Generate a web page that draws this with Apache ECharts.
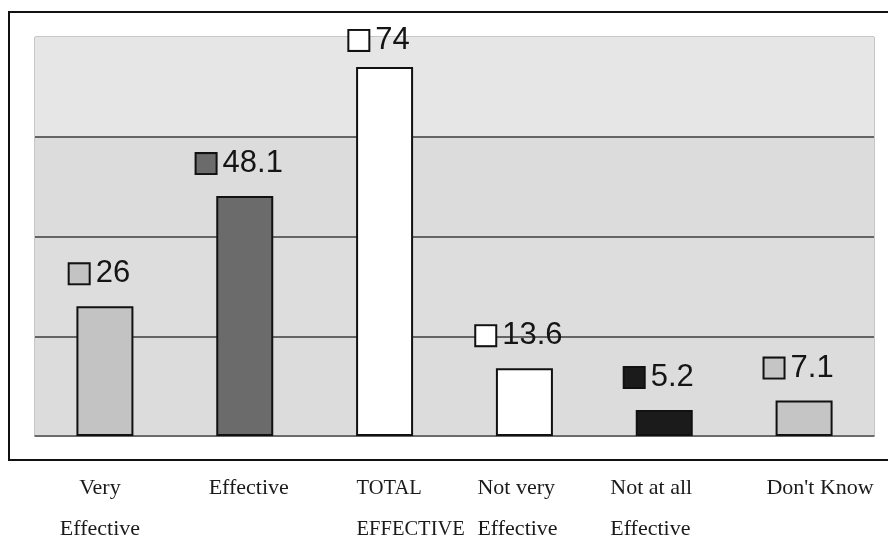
<!DOCTYPE html>
<html>
<head>
<meta charset="utf-8">
<script src="https://cdn.jsdelivr.net/npm/echarts@6/dist/echarts.min.js"></script>
<style>
  html, body { margin: 0; padding: 0; background: #ffffff; }
  #chart { width: 888px; height: 542px; }
</style>
</head>
<body>
<div id="chart"></div>
<script>
// Survey responses: how effective respondents rated the measure (%)
const categories = ['Very\nEffective', 'Effective', 'TOTAL\nEFFECTIVE', 'Not very\nEffective', 'Not at all\nEffective', "Don't Know"];
const values = [26, 48.1, 74, 13.6, 5.2, 7.1];
const barFills = ['#c3c3c3', '#6b6b6b', '#ffffff', '#ffffff', '#1b1b1b', '#c5c5c5'];
const yTicks = [0, 20, 40, 60, 80];

// Category label placement under the frame (alignment, horizontal nudge, size)
const labelAlign = ['center', 'center', 'left', 'left', 'left', 'center'];
const labelNudge = [-5, 4, -28, -47, -54, 16];
const labelSize = [22, 22, 20.5, 22, 22, 22];

const chart = echarts.init(document.getElementById('chart'), null, { renderer: 'canvas' });

const axisData = categories.map((c, i) => ({
  value: c,
  textStyle: {
    align: labelAlign[i],
    fontSize: labelSize[i],
    padding: labelAlign[i] === 'left' ? [0, 0, 0, labelNudge[i]] : [0, 0, 0, 2 * labelNudge[i]]
  }
}));

const rich = {
  v: { fontFamily: 'Liberation Sans, Arial, sans-serif', fontSize: 31, lineHeight: 31, color: '#151515', padding: [0, 0, 0, 7], verticalAlign: 'middle' }
};
barFills.forEach((f, i) => {
  rich['k' + i] = { width: 19, height: 19, backgroundColor: f, borderColor: '#111', borderWidth: 2, verticalAlign: 'middle' };
});

const seriesData = values.map((v, i) => {
  const item = { value: v, itemStyle: { color: barFills[i] } };
  if (v === Math.max(...values)) item.label = { distance: 11 };
  return item;
});

chart.setOption({
  animation: false,
  backgroundColor: '#ffffff',
  graphic: [{
    type: 'rect',
    shape: { x: 9, y: 12, width: 900, height: 448 },
    style: { fill: null, stroke: '#111', lineWidth: 2 },
    z: -1
  }],
  grid: {
    left: 35, right: 14, top: 37, bottom: 106,
    outerBoundsMode: 'none',
    containLabel: false,
    show: true,
    backgroundColor: '#dedede',
    borderColor: '#8c8c8c',
    borderWidth: 1
  },
  xAxis: {
    type: 'category',
    data: axisData,
    axisTick: { show: false },
    axisLine: { show: true, lineStyle: { color: '#4a4a4a', width: 1.5 } },
    axisLabel: {
      interval: 0,
      margin: 32,
      fontFamily: 'Liberation Serif, Times New Roman, serif',
      fontSize: 22,
      lineHeight: 41,
      color: '#1a1a1a',
      verticalAlign: 'top'
    }
  },
  yAxis: {
    type: 'value',
    min: yTicks[0],
    max: yTicks[yTicks.length - 1],
    interval: yTicks[1] - yTicks[0],
    axisLabel: { show: false },
    axisLine: { show: false },
    axisTick: { show: false },
    splitLine: { show: true, showMinLine: false, showMaxLine: false, lineStyle: { color: '#3c3c3c', width: 1.5 } },
    splitArea: { show: true, areaStyle: { color: ['#dcdcdc', '#dddddd', '#dcdcdc', '#e6e6e6'] } }
  },
  series: [{
    type: 'bar',
    data: seriesData,
    barWidth: 57,
    itemStyle: { borderColor: '#111', borderWidth: 2 },
    label: {
      show: true,
      position: 'top',
      distance: 17,
      offset: [-5, 0],
      formatter: p => '{k' + p.dataIndex + '|}{v|' + p.value + '}',
      rich: rich
    }
  }]
});
</script>
</body>
</html>
